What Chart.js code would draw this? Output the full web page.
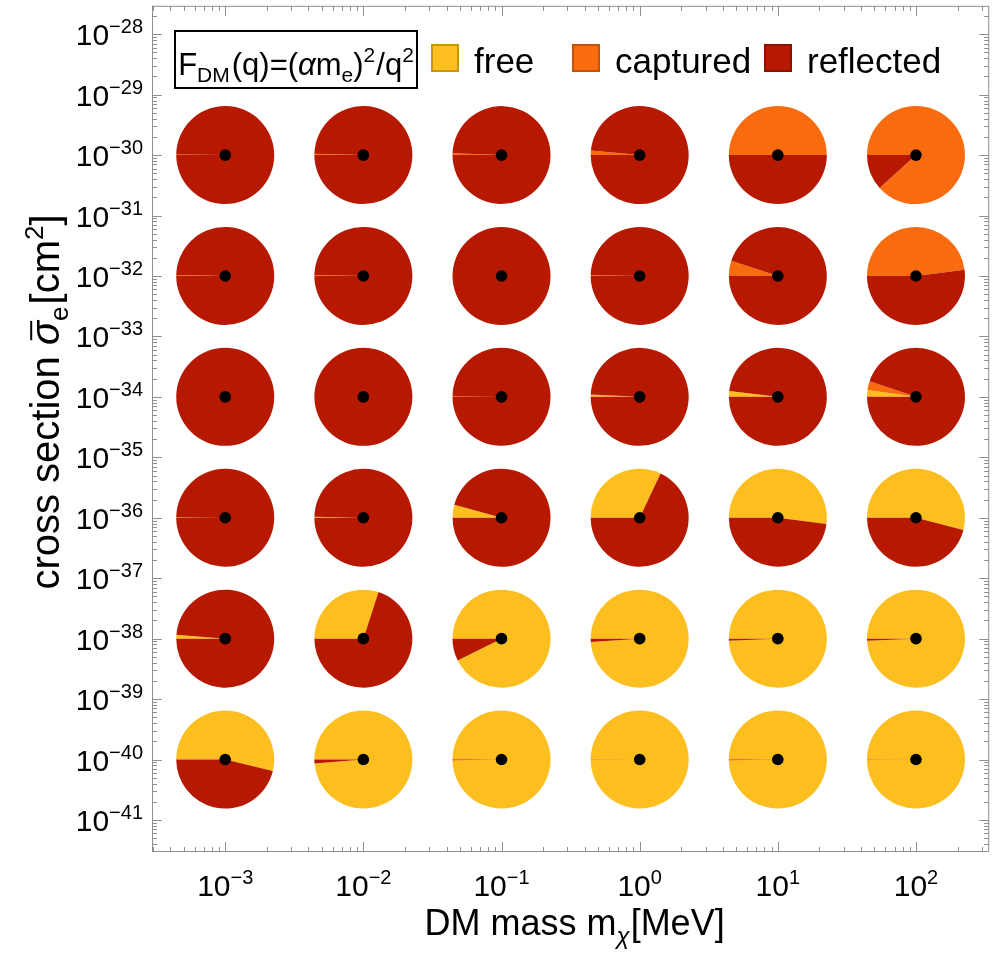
<!DOCTYPE html>
<html>
<head>
<meta charset="utf-8">
<script src="https://cdn.jsdelivr.net/npm/chart.js@4.4.1/dist/chart.umd.min.js"></script>
<style>
  html, body { margin: 0; padding: 0; background: #fff; }
  #wrap { width: 995px; height: 954px; }
</style>
</head>
<body>
<div id="wrap"><canvas id="pieGrid" width="995" height="954"></canvas></div>
<script>
// grid of outcomes: rows = cross section, columns = DM mass
const masses = [1e-3, 1e-2, 1e-1, 1, 10, 100];
const crossSections = [1e-30, 1e-32, 1e-34, 1e-36, 1e-38, 1e-40];

// slice fractions (clockwise from 9 o'clock: free, captured, reflected)
const freeFrac = [
    [0, 0, 0, 0, 0, 0],
    [0, 0, 0, 0, 0, 0],
    [0, 0, 0.001, 0.006, 0.019, 0.022],
    [0.002, 0.003, 0.043, 0.32, 0.52, 0.54],
    [0.013, 0.30, 0.926, 0.989, 0.993, 0.993],
    [0.538, 0.987, 0.998, 0.999, 0.998, 0.999]
];
const capturedFrac = [
    [0.002, 0.004, 0.006, 0.015, 0.5, 0.883],
    [0.003, 0.003, 0, 0.002, 0.05, 0.48],
    [0, 0, 0.001, 0.002, 0, 0.03],
    [0, 0, 0, 0, 0, 0],
    [0, 0, 0, 0, 0, 0],
    [0, 0, 0, 0, 0, 0]
];
const reflectedFrac = [
    [0.998, 0.996, 0.994, 0.985, 0.5, 0.117],
    [0.997, 0.997, 1, 0.998, 0.95, 0.52],
    [1, 1, 0.998, 0.992, 0.981, 0.948],
    [0.998, 0.997, 0.957, 0.68, 0.48, 0.46],
    [0.987, 0.70, 0.074, 0.011, 0.007, 0.007],
    [0.462, 0.013, 0.002, 0.001, 0.002, 0.001]
];

const outcomes = ['free', 'captured', 'reflected'];
const outcomeColors = ['#fdbf20', '#f86b0e', '#b71800'];
const outcomeEdges = ['#c8960e', '#c4530a', '#8a1200'];

const xTickExponents = [-3, -2, -1, 0, 1, 2];
const yTickExponents = [-28, -29, -30, -31, -32, -33, -34, -35, -36, -37, -38, -39, -40, -41];
const xLimits = [-3.53, 2.53];
const yLimits = [-41.53, -27.53];

const PIE_R = 49;
const FONT = '"Liberation Sans", Arial, sans-serif';
const MINUS = '\u2212';

function setFont(ctx, p) {
    ctx.font = (p.italic ? 'italic ' : '') + p.size + 'px ' + FONT;
}

// draws a run of text pieces with their own size and baseline shift
function richText(ctx, parts, x, y, align) {
    let total = 0;
    parts.forEach(p => {
        setFont(ctx, p);
        p.w = ctx.measureText(p.t).width;
        total += p.w + (p.gap || 0);
    });
    let cx = align === 'center' ? x - total / 2 : align === 'right' ? x - total : x;
    ctx.textAlign = 'left';
    ctx.textBaseline = 'alphabetic';
    parts.forEach(p => {
        setFont(ctx, p);
        ctx.fillText(p.t, cx, y + (p.dy || 0));
        if (p.bar) {
            ctx.fillRect(cx + p.w * 0.2, y - p.size * 0.72, p.w * 0.8, 2);
        }
        cx += p.w + (p.gap || 0);
    });
    return total;
}

function powerLabel(e) {
    const exp = e < 0 ? MINUS + Math.abs(e) : String(e);
    return [{ t: '10', size: 30 }, { t: exp, size: 20, dy: -12 }];
}

const pieLayer = {
    id: 'pieLayer',
    beforeDatasetsDraw(chart) {
        const { ctx, scales: { x, y } } = chart;
        ctx.save();
        crossSections.forEach((sigma, i) => {
            masses.forEach((m, j) => {
                const cx = x.getPixelForValue(m);
                const cy = y.getPixelForValue(sigma);
                const parts = [freeFrac[i][j], capturedFrac[i][j], reflectedFrac[i][j]];
                const total = parts.reduce((a, b) => a + b, 0);
                let angle = Math.PI;
                parts.forEach((p, k) => {
                    if (p <= 0) return;
                    const sweep = p / total * Math.PI * 2;
                    ctx.beginPath();
                    ctx.moveTo(cx, cy);
                    ctx.arc(cx, cy, PIE_R, angle, angle + sweep);
                    ctx.closePath();
                    ctx.fillStyle = outcomeColors[k];
                    ctx.fill();
                    angle += sweep;
                });
            });
        });
        ctx.restore();
    }
};

const frameLayer = {
    id: 'frameLayer',
    afterDraw(chart) {
        const { ctx, chartArea: a, scales: { x, y } } = chart;
        ctx.save();

        // frame + inward ticks on all four sides
        ctx.strokeStyle = '#8f8f8f';
        ctx.lineWidth = 1;
        ctx.strokeRect(a.left + 0.5, a.top + 0.5, a.right - a.left - 1, a.bottom - a.top - 1);
        ctx.beginPath();
        for (let e = Math.floor(xLimits[0]); e <= Math.ceil(xLimits[1]); e++) {
            for (let k = 1; k <= 9; k++) {
                const v = k * Math.pow(10, e);
                const px = Math.round(x.getPixelForValue(v)) + 0.5;
                if (px < a.left || px > a.right) continue;
                const len = k === 1 ? 10 : 5;
                ctx.moveTo(px, a.bottom); ctx.lineTo(px, a.bottom - len);
                ctx.moveTo(px, a.top); ctx.lineTo(px, a.top + len);
            }
        }
        for (let e = Math.floor(yLimits[0]); e <= Math.ceil(yLimits[1]); e++) {
            for (let k = 1; k <= 9; k++) {
                const v = k * Math.pow(10, e);
                const py = Math.round(y.getPixelForValue(v)) + 0.5;
                if (py < a.top || py > a.bottom) continue;
                const len = k === 1 ? 10 : 5;
                ctx.moveTo(a.left, py); ctx.lineTo(a.left + len, py);
                ctx.moveTo(a.right, py); ctx.lineTo(a.right - len, py);
            }
        }
        ctx.stroke();

        // tick labels
        ctx.fillStyle = '#000';
        xTickExponents.forEach(e => {
            richText(ctx, powerLabel(e), x.getPixelForValue(Math.pow(10, e)), a.bottom + 44, 'center');
        });
        yTickExponents.forEach(e => {
            richText(ctx, powerLabel(e), a.left - 9, y.getPixelForValue(Math.pow(10, e)) + 11, 'right');
        });

        // axis titles
        richText(ctx, [
            { t: 'DM mass m', size: 36 },
            { t: '\u03c7', size: 24, dy: 9, italic: true, gap: 1 },
            { t: '[MeV]', size: 36 }
        ], (a.left + a.right) / 2 + 4, 935, 'center');

        ctx.save();
        ctx.translate(59, 402);
        ctx.rotate(-Math.PI / 2);
        richText(ctx, [
            { t: 'cross section ', size: 40 },
            { t: '\u03c3', size: 40, italic: true, bar: true },
            { t: 'e', size: 26, dy: 9, gap: 2 },
            { t: '[cm', size: 40 },
            { t: '2', size: 26, dy: -16 },
            { t: ']', size: 40 }
        ], 0, 0, 'center');
        ctx.restore();

        // framed form-factor label
        ctx.lineWidth = 2;
        ctx.strokeStyle = '#000';
        ctx.strokeRect(175, 31, 242, 57);
        richText(ctx, [
            { t: 'F', size: 31 },
            { t: 'DM', size: 21, dy: 7, gap: 2 },
            { t: '(q)=(', size: 31 },
            { t: '\u03b1', size: 31, italic: true },
            { t: 'm', size: 31 },
            { t: 'e', size: 21, dy: 7 },
            { t: ')', size: 31 },
            { t: '2', size: 21, dy: -13, gap: 1 },
            { t: '/q', size: 31 },
            { t: '2', size: 21, dy: -13 }
        ], 296, 75, 'center');

        // swatch legend
        const swatchX = [431, 572, 764];
        outcomes.forEach((name, k) => {
            const sx = swatchX[k];
            ctx.fillStyle = outcomeColors[k];
            ctx.fillRect(sx, 44, 28, 28);
            ctx.strokeStyle = outcomeEdges[k];
            ctx.lineWidth = 2;
            ctx.strokeRect(sx + 1, 45, 26, 26);
            ctx.fillStyle = '#000';
            richText(ctx, [{ t: name, size: 35 }], sx + 43, 73, 'left');
        });

        ctx.restore();
    }
};

const points = [];
crossSections.forEach(s => masses.forEach(m => points.push({ x: m, y: s })));

new Chart(document.getElementById('pieGrid').getContext('2d'), {
    type: 'scatter',
    data: {
        datasets: [{
            label: 'grid points',
            data: points,
            pointRadius: 5.8,
            pointHoverRadius: 5.8,
            backgroundColor: '#000',
            borderWidth: 0
        }]
    },
    options: {
        responsive: false,
        animation: false,
        layout: { padding: { left: 152, right: 5, top: 5, bottom: 102 } },
        plugins: {
            legend: { display: false },
            tooltip: { enabled: false }
        },
        scales: {
            x: {
                type: 'logarithmic',
                display: false,
                min: Math.pow(10, xLimits[0]),
                max: Math.pow(10, xLimits[1])
            },
            y: {
                type: 'logarithmic',
                display: false,
                min: Math.pow(10, yLimits[0]),
                max: Math.pow(10, yLimits[1])
            }
        }
    },
    plugins: [pieLayer, frameLayer]
});
</script>
</body>
</html>
